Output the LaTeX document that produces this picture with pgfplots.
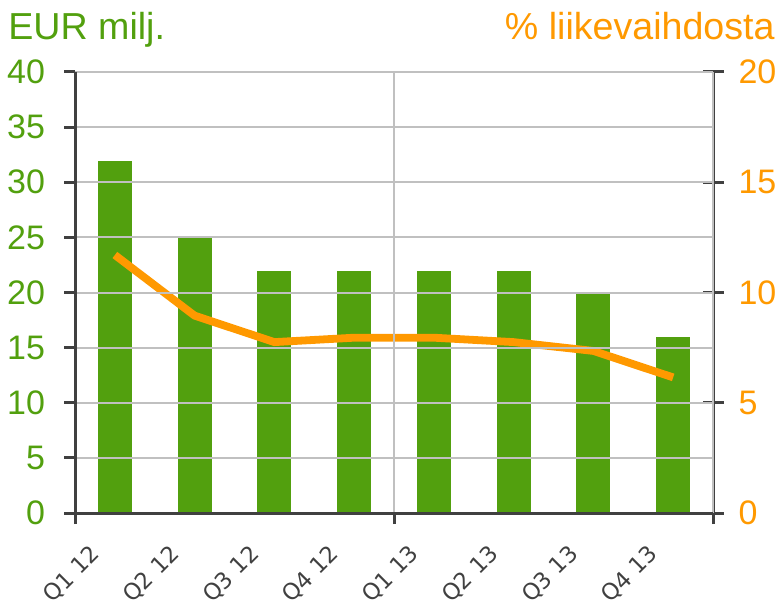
\documentclass[border=0pt]{standalone}
\usepackage{fontspec}
\setmainfont{Liberation Sans}
\newfontfamily\xlfont{DejaVu Sans}
\usepackage{pgfplots}
\pgfplotsset{compat=1.18}
\definecolor{barg}{RGB}{82,160,14}
\definecolor{lorange}{RGB}{255,153,0}
\definecolor{axgray}{RGB}{64,64,64}
\definecolor{gridgray}{RGB}{192,192,192}
\begin{document}
\begin{tikzpicture}
\begin{axis}[
  name=main,
  set layers, axis on top,
  scale only axis, width=319pt, height=220.5pt,
  xmin=-0.5, xmax=7.5, ymin=0, ymax=40,
  axis x line*=bottom, axis y line*=left,
  axis line style={axgray, line width=1.5pt},
  every tick/.style={axgray, line width=1.5pt},
  tick align=outside, major tick length=5.5pt,
  ytick={0,5,...,40},
  ymajorgrids, xmajorgrids,
  grid style={gridgray, line width=1pt, /pgfplots/on layer=axis background},
  xtick={-0.5,3.5,7.5}, xticklabels={},
  extra x ticks={0,1,2,3,4,5,6,7},
  extra x tick labels={Q1 12,Q2 12,Q3 12,Q4 12,Q1 13,Q2 13,Q3 13,Q4 13},
  extra x tick style={major tick length=0pt, grid=none,
    xticklabel style={text=axgray, font=\xlfont\fontsize{11.3}{13}\selectfont,
      anchor=north east, inner sep=0pt, xshift=-13pt, yshift=-15pt, rotate=45}},
  yticklabel style={text=barg, font=\fontsize{17}{19}\selectfont, xshift=-6pt},
  /pgf/number format/assume math mode=true,
  clip=false,
]
\addplot[ybar, bar width=0.44, fill=barg, draw=white, line width=0.6pt]
  coordinates {(0,32)(1,25)(2,22)(3,22)(4,22)(5,22)(6,20)(7,16)};
\end{axis}
\begin{axis}[
  scale only axis, width=319pt, height=220.5pt,
  xmin=-0.5, xmax=7.5, ymin=0, ymax=20,
  axis x line=none, axis y line*=right,
  axis line style={axgray, line width=1.5pt},
  every tick/.style={axgray, line width=1.5pt},
  tick align=center, major tick length=10.5pt,
  ytick={0,5,...,20},
  yticklabel style={text=lorange, font=\fontsize{17}{19}\selectfont, xshift=4pt},
  /pgf/number format/assume math mode=true,
  clip=false,
]
\addplot[lorange, line width=3.9pt]
  coordinates {(0,11.7)(1,8.95)(2,7.75)(3,7.95)(4,7.95)(5,7.75)(6,7.35)(7,6.15)};
\end{axis}
\node[anchor=base west, inner sep=0pt, text=barg, font=\fontsize{18.8}{21}\selectfont, xshift=-33.5pt, yshift=16pt] at (main.north west) {EUR milj.};
\node[anchor=base east, inner sep=0pt, text=lorange, font=\fontsize{18.8}{21}\selectfont, xshift=31pt, yshift=16pt] at (main.north east) {\% liikevaihdosta};
\pgfresetboundingbox
\path ([xshift=-37.5pt,yshift=-48pt]main.south west) rectangle ([xshift=32pt,yshift=36pt]main.north east);
\end{tikzpicture}
\end{document}
